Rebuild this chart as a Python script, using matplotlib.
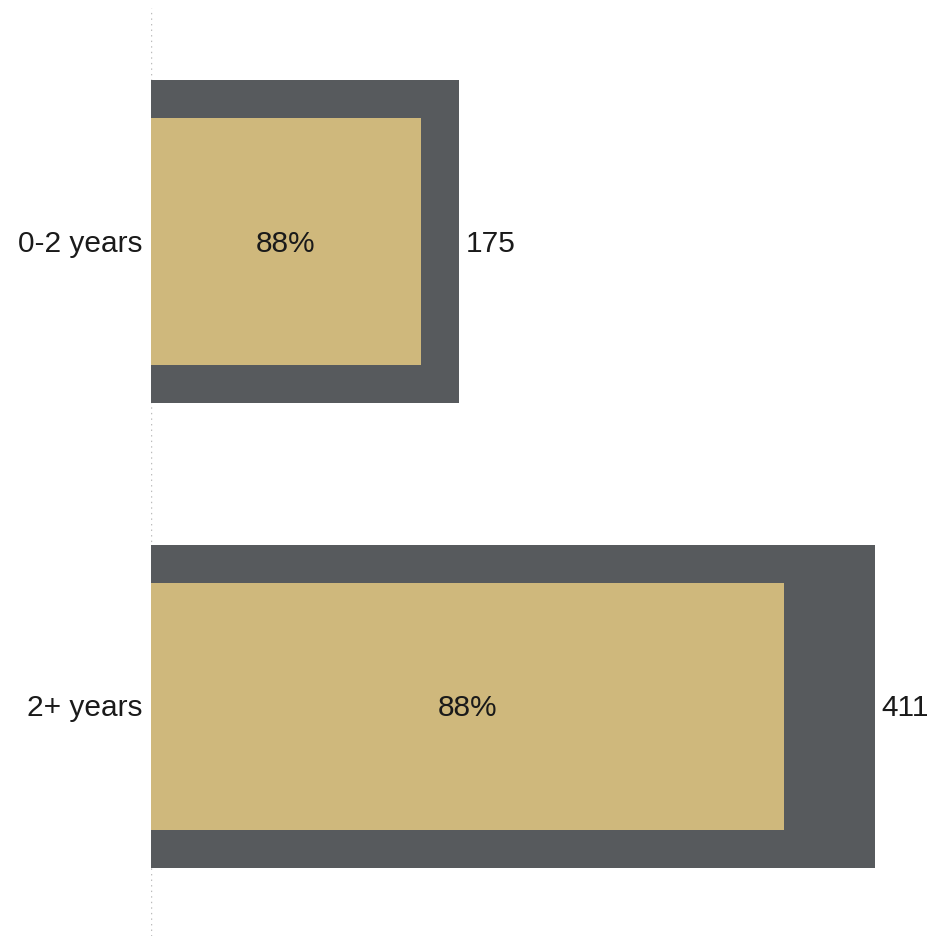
import matplotlib
matplotlib.use("Agg")
import matplotlib.pyplot as plt

plt.rcParams['font.family'] = ['Liberation Sans', 'DejaVu Sans']

# data
categories = ['0-2 years', '2+ years']
totals = [175, 411]
share = [0.875, 0.875]
share_labels = ['88%', '88%']

dark = '#575a5d'
gold = '#cfb87c'

fig = plt.figure(figsize=(9.31, 9.36), dpi=100)
ax = fig.add_axes([151 / 931, 0.0, 780 / 931, 1 - 8 / 936])

ypos = list(range(len(categories)))
inner = [t * s for t, s in zip(totals, share)]

ax.barh(ypos, totals, height=0.695, color=dark, zorder=2)
ax.barh(ypos, inner, height=0.531, color=gold, zorder=3)

for y, t, v, lab in zip(ypos, totals, inner, share_labels):
    ty = y + 0.004
    ax.text(v / 2, ty, lab, ha='center', va='center', fontsize=21.5, color='#1a1a1a', zorder=4)
    ax.text(t + 4, ty, str(t), ha='left', va='center', fontsize=21.5, color='#1a1a1a')
    ax.text(-5, ty, categories[y], ha='right', va='center', fontsize=21.5, color='#1a1a1a')

ax.axvline(0, color='#bbbbbb', linestyle=(0, (1, 3)), linewidth=1, zorder=1)

ax.set_xlim(0, 443)
ax.set_ylim(1.494, -0.503)
ax.set_xticks([])
ax.set_yticks([])
for s in ax.spines.values():
    s.set_visible(False)

fig.savefig('out.png', dpi=100)
